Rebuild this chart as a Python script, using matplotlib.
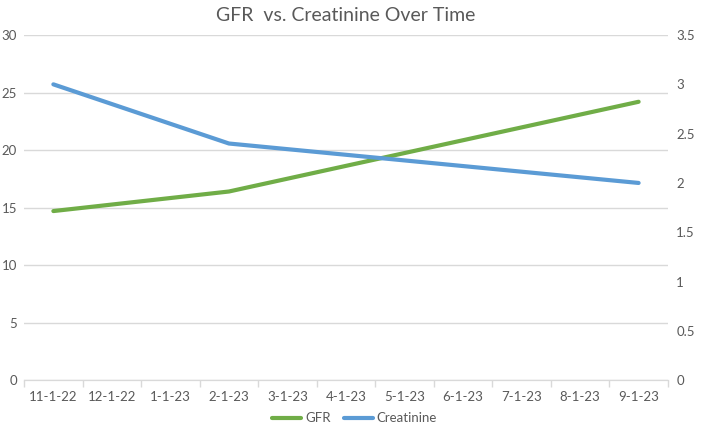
import numpy as np
import matplotlib.pyplot as plt

plt.rcParams['font.family'] = ['Lato', 'DejaVu Sans']

months = ["11-1-22", "12-1-22", "1-1-23", "2-1-23", "3-1-23", "4-1-23",
          "5-1-23", "6-1-23", "7-1-23", "8-1-23", "9-1-23"]
gfr = [14.7, None, None, 16.4, None, None, None, None, None, None, 24.2]
creatinine = [3.0, None, None, 2.4, None, None, None, None, None, None, 2.0]

green = "#70AD47"
blue = "#5B9BD5"
grey = "#595959"
grid = "#D9D9D9"

fig = plt.figure(figsize=(7.09, 4.38), dpi=100)
ax = fig.add_axes([0.034, 0.132, 0.908, 0.788])
ax2 = ax.twinx()

x = np.arange(len(months))
g = np.array([np.nan if v is None else v for v in gfr], dtype=float)
c = np.array([np.nan if v is None else v for v in creatinine], dtype=float)
gm = ~np.isnan(g)
cm = ~np.isnan(c)

l1, = ax.plot(x[gm], g[gm], color=green, lw=3, solid_capstyle="round", label="GFR")
l2, = ax2.plot(x[cm], c[cm], color=blue, lw=3, solid_capstyle="round", label="Creatinine")

ax.set_xlim(-0.5, len(months) - 0.5)
ax.set_ylim(0, 30)
ax.set_yticks(range(0, 31, 5))
ax2.set_ylim(0, 3.5)
ax2.set_yticks(np.arange(0, 3.51, 0.5))
ax2.set_yticklabels(["0", "0.5", "1", "1.5", "2", "2.5", "3", "3.5"])

ax.set_xticks(x)
ax.set_xticklabels(months)
ax.set_xticks(np.arange(-0.5, len(months), 1), minor=True)
ax.tick_params(axis="x", which="major", length=0, pad=8, labelsize=9.5, labelcolor=grey)
ax.tick_params(axis="x", which="minor", length=5, color=grid, width=1)
ax.tick_params(axis="y", length=0, pad=5, labelsize=9.5, labelcolor=grey)
ax2.tick_params(axis="y", length=0, pad=6, labelsize=9.5, labelcolor=grey)

ax.grid(axis="y", color=grid, lw=1)
ax.set_axisbelow(True)
for a in (ax, ax2):
    for s in ("top", "left", "right"):
        a.spines[s].set_visible(False)
    a.spines["bottom"].set_color(grid)

ax.set_title("GFR  vs. Creatinine Over Time", color=grey, fontsize=14, pad=10)

fig.legend([l1, l2], ["GFR", "Creatinine"], loc="center", bbox_to_anchor=(0.5, 0.045),
           ncol=2, frameon=False, fontsize=9.5, labelcolor=grey,
           handlelength=2.2, handletextpad=0.3, columnspacing=1.0)

plt.savefig("out.png", dpi=100)
plt.close()
